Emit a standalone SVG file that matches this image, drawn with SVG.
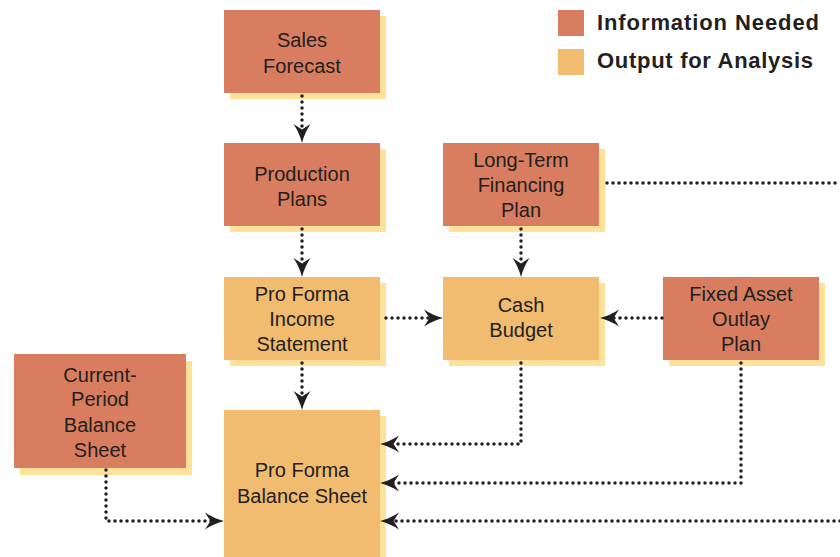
<svg xmlns="http://www.w3.org/2000/svg" width="840" height="557" viewBox="0 0 840 557">
<style>
.info{fill:#D87D5F}
.out{fill:#F1BB70}
.sh{fill:#FFE19A}
.t{font-family:"Liberation Sans",Arial,sans-serif;font-size:20px;fill:#231F20;text-anchor:middle}
.lg{font-family:"Liberation Sans",Arial,sans-serif;font-size:22px;font-weight:bold;fill:#231F20}
.c{fill:none;stroke:#231F20;stroke-width:3.5;stroke-linecap:round;stroke-dasharray:0 6}
.ca{fill:none;stroke:#231F20;stroke-width:3.5;stroke-linecap:round;stroke-dasharray:0 6;marker-end:url(#ah)}
</style>
<defs>
<marker id="ah" markerUnits="userSpaceOnUse" markerWidth="40" markerHeight="40" refX="0" refY="0" orient="auto" overflow="visible">
<path d="M12,0 Q2,-2.5 -7,-8.5 L-1.5,0 L-7,8.5 Q2,2.5 12,0 Z" fill="#231F20"/>
</marker>
</defs>
<rect width="840" height="557" fill="#FFFFFF"/>

<g id="legend">
<rect x="558" y="10" width="26" height="26" class="info"/>
<text x="597" y="30" class="lg" textLength="222">Information Needed</text>
<rect x="558" y="49" width="26" height="26" class="out"/>
<text x="597" y="68" class="lg" textLength="216">Output for Analysis</text>
</g>

<g id="sales-forecast">
<rect x="230" y="16" width="156" height="83" class="sh"/>
<rect x="224" y="10" width="156" height="83" class="info"/>
<text x="302" y="47" class="t">Sales</text>
<text x="302" y="73" class="t">Forecast</text>
</g>

<g id="production-plans">
<rect x="230" y="149" width="156" height="83" class="sh"/>
<rect x="224" y="143" width="156" height="83" class="info"/>
<text x="302" y="181" class="t">Production</text>
<text x="302" y="206" class="t">Plans</text>
</g>

<g id="long-term-financing-plan">
<rect x="449" y="149" width="156" height="83" class="sh"/>
<rect x="443" y="143" width="156" height="83" class="info"/>
<text x="521" y="167" class="t">Long-Term</text>
<text x="521" y="192" class="t">Financing</text>
<text x="521" y="217" class="t">Plan</text>
</g>

<g id="pro-forma-income-statement">
<rect x="230" y="283" width="156" height="83" class="sh"/>
<rect x="224" y="277" width="156" height="83" class="out"/>
<text x="302" y="301" class="t">Pro Forma</text>
<text x="302" y="326" class="t">Income</text>
<text x="302" y="351" class="t">Statement</text>
</g>

<g id="cash-budget">
<rect x="449" y="283" width="156" height="83" class="sh"/>
<rect x="443" y="277" width="156" height="83" class="out"/>
<text x="521" y="312" class="t">Cash</text>
<text x="521" y="337" class="t">Budget</text>
</g>

<g id="fixed-asset-outlay-plan">
<rect x="669" y="283" width="156" height="83" class="sh"/>
<rect x="663" y="277" width="156" height="83" class="info"/>
<text x="741" y="301" class="t">Fixed Asset</text>
<text x="741" y="326" class="t">Outlay</text>
<text x="741" y="351" class="t">Plan</text>
</g>

<g id="current-period-balance-sheet">
<rect x="20" y="361" width="172" height="114" class="sh"/>
<rect x="14" y="354" width="172" height="114" class="info"/>
<text x="100" y="382" class="t">Current-</text>
<text x="100" y="406" class="t">Period</text>
<text x="100" y="432" class="t">Balance</text>
<text x="100" y="457" class="t">Sheet</text>
</g>

<g id="pro-forma-balance-sheet">
<rect x="230" y="416" width="156" height="160" class="sh"/>
<rect x="224" y="410" width="156" height="160" class="out"/>
<text x="302" y="477" class="t">Pro Forma</text>
<text x="302" y="503" class="t">Balance Sheet</text>
</g>

<g id="connectors">
<path class="ca" d="M302,96 V131"/>
<path class="ca" d="M302,229 V265"/>
<path class="ca" d="M521,229 V265"/>
<path class="ca" d="M386,318 H431"/>
<path class="ca" d="M662,318 H612"/>
<path class="ca" d="M302,363 V398"/>
<path class="ca" d="M521,363 V444 H392"/>
<path class="ca" d="M741,363 V483 H392"/>
<path class="ca" d="M840,521 H392"/>
<path class="ca" d="M106,470 V521 H212"/>
<path class="c" d="M607,183 H840"/>
</g>
</svg>
